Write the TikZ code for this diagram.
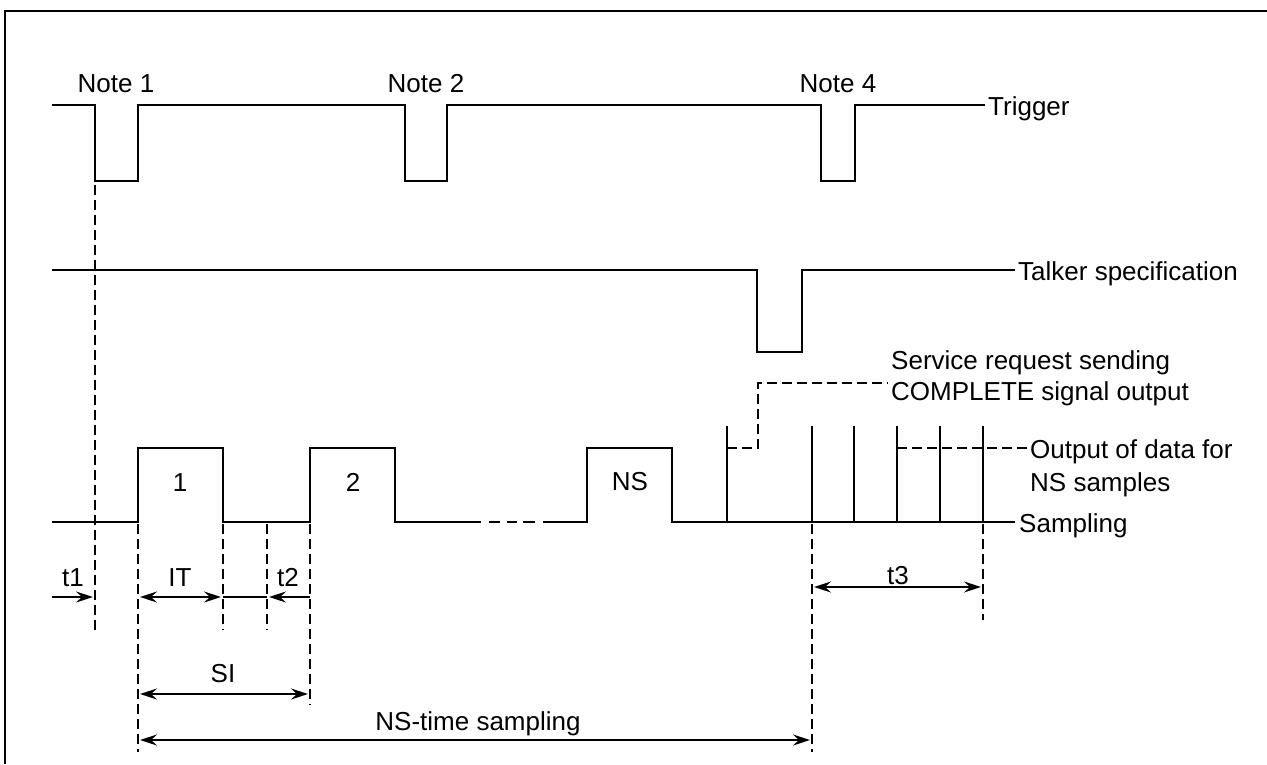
\documentclass[tikz,border=0pt]{standalone}
\usepackage{fontspec}
\setmainfont{Liberation Sans}
\usetikzlibrary{arrows.meta}
\begin{document}
\begin{tikzpicture}[x=1pt,y=-1pt,
  wave/.style={line width=2.2pt, line join=miter},
  dsh/.style={line width=2.2pt, dash pattern=on 10pt off 5pt},
  tip/.tip={Stealth[length=17pt,width=11pt,inset=6pt]},
  dimline/.style={line width=2pt},
  lbl/.style={font=\fontsize{26}{30}\selectfont, inner sep=0pt},
]
\useasboundingbox (0,0) rectangle (1267,764);
% frame
\draw[line width=2.2pt] (5,764) -- (5,11) -- (1267,11);

% Trigger
\draw[wave] (52,105) -- (95,105) -- (95,181) -- (138,181) -- (138,105) -- (405,105) -- (405,181) -- (447,181) -- (447,105) -- (821,105) -- (821,181) -- (855,181) -- (855,105) -- (985,105);
% Talker
\draw[wave] (52,270) -- (757,270) -- (757,352) -- (802,352) -- (802,270) -- (1015,270);
% Sampling
\draw[wave] (52,522) -- (138,522) -- (138,448) -- (223,448) -- (223,522) -- (310,522) -- (310,448) -- (395,448) -- (395,522) -- (481,522);
\draw[wave] (489,522) -- (500,522) (507,522) -- (517,522) (523,522) -- (535,522);
\draw[wave] (543,522) -- (587,522) -- (587,448) -- (672,448) -- (672,522) -- (1015,522);
\foreach \x in {727,812,854,897,940,983} \draw[wave] (\x,522) -- (\x,426);

% dashed verticals
\draw[dsh] (95,185) -- (95,630);
\draw[dsh] (138,524) -- (138,752);
\draw[dsh] (223,524) -- (223,630);
\draw[dsh] (267,524) -- (267,630);
\draw[dsh] (310,524) -- (310,705);
\draw[dsh] (812,524) -- (812,752);
\draw[dsh] (983,524) -- (983,620);
% service request / output dashed
\draw[dsh] (727,448) -- (758,448) -- (758,383) -- (888,383);
\draw[dsh] (897,448) -- (1028,448);

% dimension arrows
\draw[dimline,-tip] (52,597) -- (93,597);
\draw[dimline,tip-tip] (140,597) -- (221,597);
\draw[dimline] (223,597) -- (267,597);
\draw[dimline,-tip] (310,597) -- (269,597);
\draw[dimline,tip-tip] (140,694) -- (308,694);
\draw[dimline,tip-tip] (140,740) -- (810,740);
\draw[dimline,tip-tip] (814,587) -- (981,587);

% labels
\node[lbl,anchor=base] (n1) at (116,92) {Note 1};
\node[lbl,anchor=base] (n2) at (426,92) {Note 2};
\node[lbl,anchor=base] (n4) at (838,92) {Note 4};
\node[lbl,anchor=base west] (trig) at (988,115) {Trigger};
\node[lbl,anchor=base west] (talk) at (1018,280) {Talker specification};
\node[lbl,anchor=base west] (srv1) at (891,369) {Service request sending};
\node[lbl,anchor=base west] (srv2) at (891,400) {COMPLETE signal output};
\node[lbl,anchor=base west] (out1) at (1030,458) {Output of data for};
\node[lbl,anchor=base west] (out2) at (1030,491) {NS samples};
\node[lbl,anchor=base west] (samp) at (1019,532) {Sampling};
\node[lbl,anchor=base] (p1) at (180,491) {1};
\node[lbl,anchor=base] (p2) at (353,491) {2};
\node[lbl,anchor=base] (pns) at (630,490) {NS};
\node[lbl,anchor=base] (lt1) at (73,586) {t1};
\node[lbl,anchor=base] (lit) at (180,586) {IT};
\node[lbl,anchor=base] (lt2) at (288,586) {t2};
\node[lbl,anchor=base] (lt3) at (898,584) {t3};
\node[lbl,anchor=base] (lsi) at (223,682) {SI};
\node[lbl,anchor=base] (lns) at (478,730) {NS-time sampling};
\end{tikzpicture}
\end{document}
